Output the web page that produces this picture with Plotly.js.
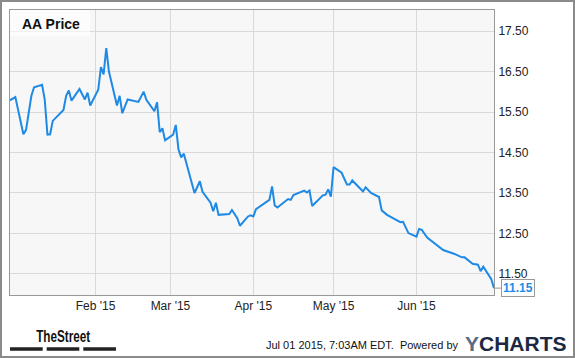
<!DOCTYPE html>
<html>
<head>
<meta charset="utf-8">
<script src="https://cdn.plot.ly/plotly-3.0.1.min.js"></script>
<style>
html,body{margin:0;padding:0;background:#fff;}
#chart{width:575px;height:358px;}
</style>
</head>
<body>
<div id="chart"></div>
<script>
var dates = ["2014-12-31","2015-01-02","2015-01-05","2015-01-06","2015-01-08","2015-01-09","2015-01-12","2015-01-13","2015-01-14","2015-01-15","2015-01-16","2015-01-20","2015-01-21","2015-01-22","2015-01-23","2015-01-26","2015-01-28","2015-01-29","2015-01-30","2015-02-02","2015-02-03","2015-02-04","2015-02-05","2015-02-06","2015-02-09","2015-02-10","2015-02-11","2015-02-13","2015-02-17","2015-02-19","2015-02-20","2015-02-23","2015-02-24","2015-02-25","2015-02-26","2015-02-27","2015-03-02","2015-03-03","2015-03-04","2015-03-05","2015-03-06","2015-03-10","2015-03-12","2015-03-13","2015-03-16","2015-03-17","2015-03-18","2015-03-19","2015-03-23","2015-03-24","2015-03-26","2015-03-27","2015-03-30","2015-03-31","2015-04-01","2015-04-02","2015-04-07","2015-04-08","2015-04-09","2015-04-10","2015-04-14","2015-04-15","2015-04-16","2015-04-17","2015-04-20","2015-04-21","2015-04-22","2015-04-23","2015-04-27","2015-04-28","2015-04-29","2015-04-30","2015-05-01","2015-05-04","2015-05-06","2015-05-07","2015-05-08","2015-05-12","2015-05-13","2015-05-15","2015-05-18","2015-05-19","2015-05-21","2015-05-26","2015-05-27","2015-05-29","2015-06-01","2015-06-02","2015-06-03","2015-06-05","2015-06-09","2015-06-11","2015-06-15","2015-06-17","2015-06-18","2015-06-19","2015-06-22","2015-06-24","2015-06-25","2015-06-26","2015-06-29","2015-06-30"];
var prices = [15.79,15.87,14.95,15.06,15.90,16.11,16.17,15.80,14.94,14.95,15.28,15.55,15.90,16.03,15.78,16.07,15.81,15.98,15.66,16.05,16.61,16.43,17.08,16.50,15.66,15.90,15.47,15.81,15.75,16.00,15.80,15.52,15.74,15.00,15.10,14.80,14.94,15.18,14.58,14.38,14.47,13.50,13.79,13.53,13.26,13.05,13.26,12.96,12.98,13.08,12.88,12.69,12.92,12.95,12.92,13.10,13.33,13.66,13.19,13.14,13.35,13.33,13.45,13.48,13.56,13.51,13.56,13.18,13.44,13.46,13.59,13.41,14.14,14.00,13.71,13.71,13.81,13.54,13.64,13.50,13.40,13.07,12.96,12.78,12.79,12.51,12.42,12.61,12.59,12.40,12.19,12.09,12.00,11.95,11.91,11.91,11.75,11.73,11.57,11.68,11.37,11.15];
var xTickVals = ["2015-02-01","2015-03-01","2015-04-01","2015-05-01","2015-06-01"];
var xTickText = ["Feb '15","Mar '15","Apr '15","May '15","Jun '15"];
var yTickVals = [11.5,12.5,13.5,14.5,15.5,16.5,17.5];
var yTickText = ["11.50","12.50","13.50","14.50","15.50","16.50","17.50"];
var seriesName = "AA Price";

var W = 575, H = 358, mL = 10, mR = 81, mT = 10, mB = 63;
var pw = W - mL - mR, ph = H - mT - mB;
function px(x){ return (x - mL) / pw; }
function py(y){ return (H - mB - y) / ph; }

var lastDate = dates[dates.length-1];
var lastVal = prices[prices.length-1];

var trace = {
  x: dates, y: prices, type: 'scatter', mode: 'lines',
  line: {color: '#1e8ae6', width: 2},
  hoverinfo: 'skip', showlegend: false
};

var font = 'Liberation Sans, Arial, sans-serif';
var layout = {
  width: W, height: H,
  margin: {l: mL, r: mR, t: mT, b: mB, pad: 0},
  paper_bgcolor: '#ffffff',
  plot_bgcolor: '#f7f7f7',
  font: {family: font, size: 12, color: '#222'},
  xaxis: {
    type: 'date', range: ['2014-12-31', '2015-06-30'],
    tickmode: 'array', tickvals: xTickVals, ticktext: xTickText,
    showgrid: true, gridcolor: '#d9d9d9', gridwidth: 1,
    showline: true, mirror: true, linecolor: '#999', linewidth: 1,
    ticks: '', zeroline: false, fixedrange: true,
    tickfont: {family: font, size: 12, color: '#222'}
  },
  yaxis: {
    side: 'right', range: [10.98, 18.02],
    tickmode: 'array', tickvals: yTickVals, ticktext: yTickText,
    showgrid: true, gridcolor: '#d9d9d9', gridwidth: 1,
    showline: true, mirror: true, linecolor: '#999', linewidth: 1,
    ticks: 'outside', ticklen: 1, tickcolor: 'rgba(0,0,0,0)',
    zeroline: false, fixedrange: true,
    tickfont: {family: font, size: 12, color: '#222'}
  },
  shapes: [
    {type: 'rect', xref: 'paper', yref: 'paper', x0: px(1), x1: px(574), y0: py(357), y1: py(1), line: {color: '#8a8a8a', width: 2}, layer: 'above'},
    {type: 'rect', xref: 'paper', yref: 'paper', x0: 0, x1: px(90), y0: py(36), y1: 1, fillcolor: 'rgba(255,255,255,0.6)', line: {width: 0}, layer: 'above'},
    {type: 'rect', xref: 'paper', yref: 'paper', x0: px(10), x1: px(42.7), y0: py(350.7), y1: py(347.3), fillcolor: '#222', line: {width: 0}},
    {type: 'rect', xref: 'paper', yref: 'paper', x0: px(46.7), x1: px(79.3), y0: py(350.7), y1: py(347.3), fillcolor: '#222', line: {width: 0}},
    {type: 'rect', xref: 'paper', yref: 'paper', x0: px(83.3), x1: px(116), y0: py(350.7), y1: py(347.3), fillcolor: '#222', line: {width: 0}}
  ],
  annotations: [
    {xref: 'paper', yref: 'paper', x: px(20), y: py(23.5), xanchor: 'left', yanchor: 'middle', showarrow: false,
     text: '<b>' + seriesName + '</b>', font: {family: font, size: 14, color: '#111'}},
    {x: lastDate, y: lastVal, xref: 'x', yref: 'y', showarrow: true, arrowhead: 0, arrowwidth: 1, arrowcolor: '#999',
     ax: 7, ay: 0, xanchor: 'left', yanchor: 'middle', text: '<b>' + lastVal.toFixed(2) + '</b>',
     font: {family: font, size: 12, color: '#1e8ae6'}, bgcolor: '#ffffff', bordercolor: '#999', borderwidth: 1, borderpad: 1},
    {xref: 'paper', yref: 'paper', x: px(63), y: py(336), xanchor: 'center', yanchor: 'middle', showarrow: false,
     text: '<b>TheStreet</b>', font: {family: font, size: 17, color: '#111'}},
    {xref: 'paper', yref: 'paper', x: px(460), y: py(345), xanchor: 'right', yanchor: 'middle', showarrow: false,
     text: 'Jul 01 2015, 7:03AM EDT.  Powered by', font: {family: font, size: 11, color: '#111'}},
    {xref: 'paper', yref: 'paper', x: px(463), y: py(343), xanchor: 'left', yanchor: 'middle', showarrow: false,
     text: '<b><span style="color:#5a6b85">Y</span>CHARTS</b>', font: {family: font, size: 21, color: '#1c2842'}}
  ]
};

Plotly.newPlot('chart', [trace], layout, {staticPlot: true, displayModeBar: false}).then(function(gd){
  var texts = gd.querySelectorAll('.annotation-text');
  texts.forEach(function(t){
    if (t.textContent === 'TheStreet') {
      t.setAttribute('textLength', '54');
      t.setAttribute('lengthAdjust', 'spacingAndGlyphs');
    }
  });
});
</script>
</body>
</html>
